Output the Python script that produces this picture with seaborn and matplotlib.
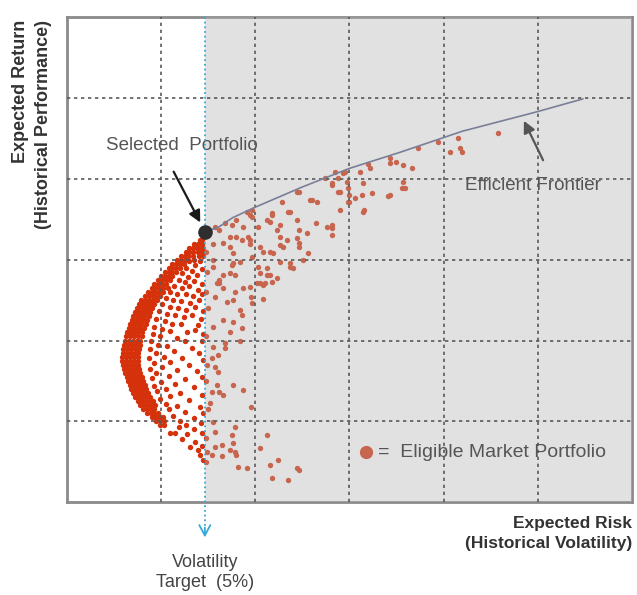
import numpy as np
import pandas as pd
import matplotlib
matplotlib.use('Agg')
import matplotlib.pyplot as plt
import seaborn as sns

# axes are in grid units (no tick labels in the original), 6 x 6 cells
VOL_TARGET = 1.465

# efficient frontier
frontier_risk = [1.465, 1.62, 1.76, 2.0, 2.5, 3.0, 3.54, 4.2, 4.99, 5.48]
frontier_ret = [3.34, 3.41, 3.52, 3.65, 3.90, 4.13, 4.33, 4.59, 4.83, 4.99]

# dense band on the left edge of the bullet (row return -> risks)
band_y = [3.25, 3.20, 3.15, 3.10, 3.05, 3.00, 2.95, 2.90, 2.85, 2.80, 2.75, 2.70,
          2.65, 2.60, 2.55, 2.50, 2.45, 2.40, 2.35, 2.30, 2.25, 2.20, 2.15, 2.10,
          2.05, 2.00, 1.95, 1.90, 1.85, 1.80, 1.75, 1.70, 1.65, 1.60, 1.55, 1.50,
          1.45, 1.40, 1.35, 1.30, 1.25, 1.20, 1.15, 1.10, 1.05, 1.00, 0.95]
band_x = [
    [1.41, 1.44],
    [1.35, 1.39, 1.43],
    [1.30, 1.34, 1.38, 1.42, 1.45],
    [1.26, 1.30, 1.34, 1.39, 1.44],
    [1.21, 1.25, 1.29, 1.34, 1.40, 1.45],
    [1.17, 1.21, 1.25, 1.29, 1.35],
    [1.12, 1.16, 1.20, 1.24],
    [1.08, 1.12, 1.16, 1.20],
    [1.04, 1.08, 1.12, 1.16],
    [1.00, 1.04, 1.08, 1.12],
    [0.97, 1.01, 1.05, 1.09],
    [0.93, 0.97, 1.01, 1.05],
    [0.90, 0.94, 0.98, 1.02, 1.07],
    [0.86, 0.90, 0.94, 0.98, 1.02],
    [0.83, 0.87, 0.91, 0.95, 0.99],
    [0.79, 0.83, 0.87, 0.91, 0.96],
    [0.77, 0.81, 0.85, 0.89, 0.93],
    [0.74, 0.78, 0.82, 0.86, 0.90],
    [0.72, 0.76, 0.80, 0.84, 0.88],
    [0.70, 0.74, 0.78, 0.82, 0.87],
    [0.69, 0.73, 0.77, 0.81, 0.85],
    [0.67, 0.71, 0.75, 0.79, 0.84],
    [0.66, 0.70, 0.74, 0.78, 0.82],
    [0.64, 0.68, 0.72, 0.76, 0.80],
    [0.63, 0.67, 0.71, 0.75, 0.80],
    [0.62, 0.66, 0.70, 0.74, 0.78],
    [0.61, 0.65, 0.69, 0.73, 0.78],
    [0.60, 0.64, 0.68, 0.72, 0.77],
    [0.60, 0.64, 0.68, 0.72, 0.76],
    [0.59, 0.63, 0.67, 0.71, 0.76],
    [0.59, 0.63, 0.67, 0.71, 0.75],
    [0.60, 0.64, 0.68, 0.72, 0.76],
    [0.61, 0.65, 0.69, 0.73, 0.77],
    [0.62, 0.66, 0.70, 0.74, 0.78],
    [0.64, 0.68, 0.72, 0.76, 0.80],
    [0.65, 0.69, 0.73, 0.77, 0.81],
    [0.67, 0.71, 0.75, 0.79, 0.83],
    [0.68, 0.72, 0.76, 0.80, 0.84],
    [0.70, 0.74, 0.78, 0.82, 0.86],
    [0.72, 0.76, 0.80, 0.84, 0.88],
    [0.75, 0.79, 0.83, 0.87, 0.91],
    [0.78, 0.82, 0.86, 0.90, 0.94],
    [0.81, 0.85, 0.89, 0.93],
    [0.85, 0.89, 0.93, 0.97],
    [0.90, 0.94, 0.98, 1.02],
    [0.95, 0.99, 1.03],
    [0.99, 1.03],
]

# looser points inside the bullet (risk, return)
inner_pts = [
    (1.30, 2.98), (1.36, 2.93), (1.41, 2.99), (1.27, 2.90), (1.33, 2.86), (1.44, 2.88),
    (1.22, 2.83), (1.29, 2.79), (1.38, 2.81), (1.19, 2.75), (1.25, 2.72), (1.35, 2.74),
    (1.43, 2.70), (1.14, 2.68), (1.22, 2.65), (1.30, 2.67), (1.39, 2.63), (1.10, 2.60),
    (1.17, 2.57), (1.26, 2.58), (1.34, 2.55), (1.44, 2.57), (1.05, 2.53), (1.13, 2.50),
    (1.21, 2.49), (1.31, 2.47), (1.40, 2.50),
    (1.01, 2.45), (1.09, 2.42), (1.18, 2.40), (1.27, 2.38), (1.36, 2.41), (1.45, 2.36),
    (0.98, 2.36), (1.06, 2.33), (1.15, 2.31), (1.24, 2.29), (1.33, 2.32), (1.42, 2.27),
    (0.95, 2.27), (1.04, 2.24), (1.12, 2.21), (1.21, 2.20), (1.39, 2.19), (0.93, 2.17),
    (1.01, 2.14), (1.10, 2.12), (1.28, 2.10), (1.36, 2.13), (1.45, 2.08), (0.91, 2.08),
    (0.99, 2.05), (1.17, 2.03), (1.25, 2.00), (1.43, 1.99), (0.89, 1.99),
    (0.97, 1.95), (1.06, 1.93), (1.33, 1.91), (0.88, 1.90), (1.14, 1.87), (1.40, 1.85),
    (0.95, 1.84), (1.03, 1.80), (1.22, 1.79), (0.87, 1.79), (1.10, 1.74), (1.45, 1.76),
    (0.93, 1.72), (1.30, 1.70), (1.01, 1.67), (0.88, 1.65), (1.17, 1.63), (1.38, 1.62),
    (0.95, 1.60), (1.08, 1.56), (1.44, 1.55), (0.90, 1.54), (1.25, 1.52), (1.00, 1.49),
    (1.15, 1.46), (0.93, 1.44), (1.35, 1.43), (1.05, 1.40),
    (0.96, 1.37), (1.20, 1.35), (1.44, 1.33), (1.10, 1.31), (0.99, 1.28), (1.30, 1.26),
    (1.05, 1.22), (1.17, 1.19), (1.41, 1.18), (1.08, 1.15), (1.25, 1.12), (1.45, 1.10),
    (1.13, 1.07), (1.35, 1.04), (1.20, 1.01), (1.42, 0.98), (1.27, 0.95), (1.19, 0.93),
    (1.35, 0.90), (1.44, 0.86), (1.28, 0.84), (1.09, 0.85), (1.15, 0.85), (1.31, 0.68),
    (1.39, 0.64), (1.22, 0.78), (1.36, 0.74), (1.44, 0.70), (1.41, 0.58), (1.45, 0.52),
]

# points beyond the volatility target (risk, return)
outer_pts = [
    (1.75, 3.43), (1.80, 3.49), (1.94, 3.55), (1.97, 3.61), (2.03, 3.40), (2.13, 3.49),
    (2.18, 3.58), (2.28, 3.71), (2.35, 3.59), (2.44, 3.49), (2.58, 3.74), (2.66, 3.71),
    (2.65, 3.45), (2.76, 3.40), (2.81, 3.92), (2.47, 3.84), (1.86, 3.24), (1.92, 3.28),
    (2.23, 3.37), (2.34, 3.24), (2.44, 3.27), (2.55, 3.33), (1.73, 3.28), (1.62, 3.37),
    (1.57, 3.40), (1.66, 3.21), (2.05, 3.16),
    (1.55, 3.20), (1.73, 3.16), (1.94, 3.20), (2.26, 3.18), (2.47, 3.16), (1.76, 3.08),
    (1.97, 3.03), (2.08, 3.09), (2.16, 3.09), (2.56, 3.08), (1.55, 3.00), (1.55, 2.91),
    (1.75, 2.93), (1.84, 2.97), (2.03, 2.91), (2.12, 2.90), (2.26, 2.97), (2.37, 2.91),
    (2.40, 2.90), (2.51, 3.00), (2.05, 2.83), (2.16, 2.81), (2.23, 2.77), (1.66, 2.81),
    (1.73, 2.83), (1.59, 2.71), (1.62, 2.71), (2.05, 2.71), (2.08, 2.69), (2.18, 2.72),
    (1.66, 2.65), (1.87, 2.65), (1.94, 2.66), (1.78, 2.60), (1.57, 2.54), (1.70, 2.48),
    (1.76, 2.50), (1.97, 2.46), (2.08, 2.52), (1.96, 2.54), (1.84, 2.38), (1.86, 2.31),
    (1.66, 2.25), (1.76, 2.23), (1.55, 2.17), (1.73, 2.10), (1.86, 2.15), (1.84, 2.00),
    (1.68, 1.97), (1.55, 1.92), (1.68, 1.91), (1.60, 1.82), (1.54, 1.79),
    (1.57, 1.67), (1.60, 1.61), (1.59, 1.45), (1.54, 1.36), (1.62, 1.36), (1.66, 1.32),
    (1.76, 1.45), (1.87, 1.39), (1.52, 1.23), (1.96, 1.18), (1.55, 0.99), (1.57, 0.87),
    (1.78, 0.93), (1.75, 0.83), (1.76, 0.73), (2.13, 0.83), (1.57, 0.68), (1.65, 0.71),
    (1.73, 0.64), (1.78, 0.62), (1.80, 0.58), (1.54, 0.58), (1.65, 0.57), (2.05, 0.67),
    (2.24, 0.52), (2.16, 0.46), (1.82, 0.43), (1.91, 0.42), (2.18, 0.30), (2.44, 0.42),
    (2.47, 0.40), (2.35, 0.27),
    (2.95, 4.08), (2.93, 4.07), (2.88, 4.01), (2.97, 3.96), (2.82, 3.95), (2.88, 3.84),
    (2.98, 3.89), (3.11, 4.08), (3.14, 3.95), (3.20, 4.19), (3.43, 4.26), (3.43, 4.20),
    (3.50, 4.21), (3.57, 4.17), (3.67, 4.13), (3.73, 4.38), (3.94, 4.46), (3.57, 3.96),
    (3.56, 3.89), (3.59, 3.89), (3.24, 3.82), (3.13, 3.80), (3.43, 3.80), (3.41, 3.79),
    (3.00, 3.80), (3.06, 3.76), (2.98, 3.71), (2.90, 3.61), (3.16, 3.61), (2.82, 3.43),
    (2.81, 3.39), (2.82, 3.30), (4.07, 4.33), (4.15, 4.50), (4.17, 4.38), (4.20, 4.33),
    (4.58, 4.57),
    (2.44, 3.84), (2.60, 3.74), (2.37, 3.59), (2.26, 3.43), (2.47, 3.37), (2.90, 3.84),
    (3.00, 3.71), (3.14, 3.59), (3.22, 4.14), (2.85, 4.08), (2.74, 4.01), (2.37, 2.96),
    (2.19, 3.08), (1.76, 2.96), (1.94, 3.24), (1.80, 3.28), (1.87, 3.40), (1.97, 3.53),
    (1.91, 3.59), (1.68, 3.45), (2.18, 3.55), (2.16, 3.47), (2.26, 3.28), (2.29, 3.16),
    (2.47, 3.21), (2.10, 2.71), (2.02, 2.71), (2.12, 2.81), (1.78, 2.81), (1.62, 2.75),
    (1.48, 3.10), (1.49, 2.85), (1.48, 2.60), (1.50, 2.40), (1.48, 2.05), (1.49, 1.70),
    (1.48, 1.50), (1.50, 1.15), (1.48, 0.80), (1.49, 0.62), (1.48, 0.50),
]

band_risk = [x for xs in band_x for x in xs]
band_ret = [y for y, xs in zip(band_y, band_x) for _ in xs]
pts = pd.DataFrame(inner_pts + outer_pts, columns=['risk', 'ret'])
pts = pd.concat([pd.DataFrame({'risk': band_risk, 'ret': band_ret}), pts],
                ignore_index=True)

sns.set_style('white')
plt.rcParams['font.family'] = ['Liberation Sans', 'DejaVu Sans']

fig = plt.figure(figsize=(6.37, 5.95), dpi=100)
ax = fig.add_axes([0.105, 0.156, 0.887, 0.815])
ax.set_xlim(0, 6)
ax.set_ylim(0, 6)

red = '#d5310b'
sns.scatterplot(data=pts, x='risk', y='ret', color=red, s=15, linewidth=0,
                ax=ax, zorder=2)
# legend dot sits under the same grey veil
ax.plot(3.18, 0.62, 'o', color=red, markersize=8.5, zorder=2)

# grey veil beyond the volatility target
ax.axvspan(VOL_TARGET, 6, color='#b4b4b4', alpha=0.4, lw=0, zorder=3)

for v in range(1, 6):
    ax.axvline(v, color='#5a5a5a', lw=1.2, ls=(0, (2, 2.2)), zorder=4)
    ax.axhline(v, color='#5a5a5a', lw=1.2, ls=(0, (2, 2.2)), zorder=4)

sns.lineplot(x=frontier_risk, y=frontier_ret, color='#7a7f98', lw=1.2,
             ax=ax, zorder=5, estimator=None, sort=False)

# volatility target line, running past the bottom of the axes
ax.plot([VOL_TARGET, VOL_TARGET], [6, -0.3], color='#36a9d6', lw=1.3,
        ls=(0, (1, 1.6)), clip_on=False, zorder=6)
ax.annotate('', xy=(VOL_TARGET, -0.47), xytext=(VOL_TARGET, -0.28),
            arrowprops=dict(arrowstyle='->,head_length=0.75,head_width=0.4',
                            color='#36a9d6', lw=1.3),
            annotation_clip=False)
ax.text(VOL_TARGET, -0.87, 'Volatility\nTarget  (5%)', ha='center', va='center',
        fontsize=13, color='#444444', linespacing=1.25)

# selected portfolio
ax.plot(VOL_TARGET, 3.34, 'o', color='#2e2e2e', markersize=9.5, zorder=7)
ax.annotate('', xy=(1.43, 3.43), xytext=(1.12, 4.12),
            arrowprops=dict(arrowstyle='-|>,head_length=0.7,head_width=0.35',
                            color='#1a1a1a', lw=1.6), zorder=7)
ax.text(1.22, 4.41, 'Selected  Portfolio', ha='center', va='center',
        fontsize=13.5, color='#555555')

ax.annotate('', xy=(4.84, 4.75), xytext=(5.07, 4.20),
            arrowprops=dict(arrowstyle='-|>,head_length=0.7,head_width=0.35',
                            color='#555555', lw=1.6), zorder=7)
ax.text(4.95, 3.92, 'Efficient Frontier', ha='center', va='center',
        fontsize=13.5, color='#555555')

ax.text(3.30, 0.62, '=  Eligible Market Portfolio', ha='left', va='center',
        fontsize=14, color='#555555', zorder=7)

ax.set_xticks([])
ax.set_yticks([])
ax.set_xlabel('')
ax.set_ylabel('')
for s in ax.spines.values():
    s.set_color('#8a8a8a')
    s.set_linewidth(2)

ax.text(1.0, -0.028, 'Expected Risk\n(Historical Volatility)', transform=ax.transAxes,
        ha='right', va='top', fontsize=12.5, fontweight='bold', color='#333333',
        multialignment='right', linespacing=1.45)
ax.text(-0.061, 0.995, 'Expected Return\n(Historical Performance)', transform=ax.transAxes,
        ha='center', va='top', rotation=90, fontsize=13, fontweight='bold',
        color='#333333', multialignment='right', linespacing=1.45)

fig.savefig('out.png', dpi=100)
